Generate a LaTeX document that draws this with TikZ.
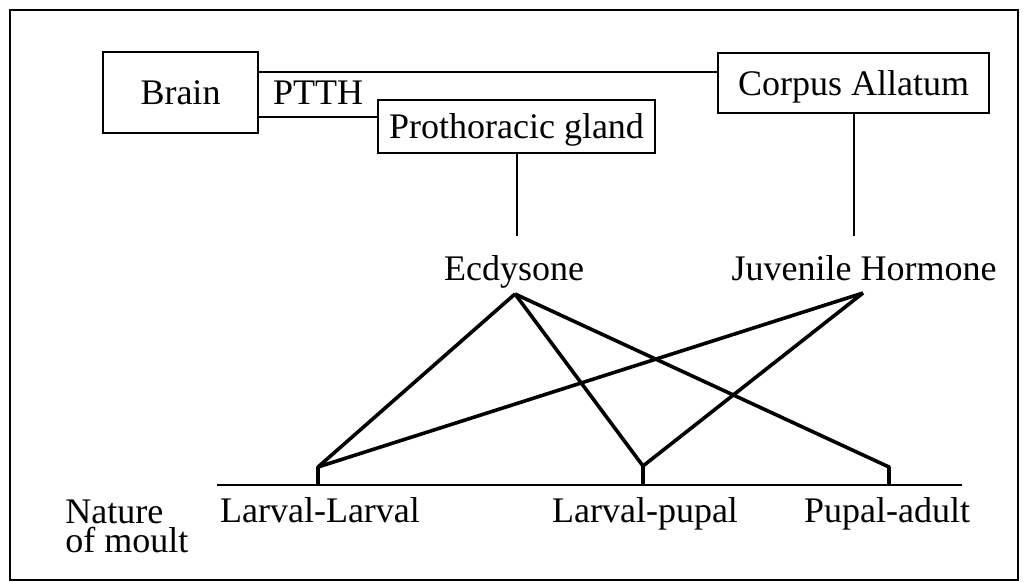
\documentclass[tikz,border=0pt]{standalone}
\usepackage{fontspec}
\setmainfont{Liberation Serif}
\begin{document}
\begin{tikzpicture}[x=0.5pt,y=-0.5pt,
		organ/.style={draw,line width=1.4pt,inner sep=0pt,text depth=0pt,font=\fontsize{18}{21}\selectfont},
		plaintext/.style={inner sep=0pt,anchor=base,font=\fontsize{18}{21}\selectfont},
		link/.style={line width=1pt},
		effect/.style={line width=1.8pt,line join=round}]
		\useasboundingbox (0,0) rectangle (1033,582);
		\draw[line width=1.2pt] (10,10) rectangle (1018,580);
		
		% Glands
		\node[organ,minimum width=77.5pt,minimum height=40.5pt] (brain) at (180.5,92.5) {Brain};
		\node[organ,minimum width=135.5pt,minimum height=30pt] (ca) at (853.5,83) {Corpus Allatum};
		\node[organ,minimum width=138.5pt,minimum height=26.5pt] (pg) at (516.5,126.5) {Prothoracic gland};
		
		% Links between the glands
		\draw[link] (brain.east |- 0,72) -- (ca.west |- 0,72);
		\draw[link] (brain.east |- 0,117) -- (pg.west |- 0,117);
		\node[plaintext] (ptth) at (318,105) {PTTH};
		
		% Hormones
		\node[plaintext] (ecd) at (514,281) {Ecdysone};
		\node[plaintext] (jh) at (864,281) {Juvenile Hormone};
		\draw[link,shorten >=10pt] (pg.south) -- (pg.south |- ecd.north);
		\draw[link,shorten >=10pt] (ca.south) -- (ca.south |- jh.north);
		\coordinate (ecdfoot) at (515,294);
		\coordinate (jhfoot) at (863,293);
		
		% Moult axis
		\coordinate (axl) at (217,485);
		\coordinate (axr) at (962,485);
		\draw[line width=1.3pt] (axl) -- (axr);
		\coordinate (ll) at (318,467);
		\coordinate (lp) at (643,466);
		\coordinate (pa) at (889,467);
		\node[plaintext] (lltext) at (320,522) {Larval-Larval};
		\node[plaintext] (lptext) at (645,522) {Larval-pupal};
		\node[plaintext] (patext) at (887,522) {Pupal-adult};
		\node[plaintext,anchor=base west,align=left,font=\fontsize{18}{14.5}\selectfont] (nature) at (65,552) {Nature\\of moult};
		
		% Effects of the hormones on the moult
		\draw[effect] (ecdfoot) -- (ll) -- (ll |- axl);
		\draw[effect] (ecdfoot) -- (lp) -- (lp |- axl);
		\draw[effect] (ecdfoot) -- (pa) -- (pa |- axl);
		\draw[effect] (jhfoot) -- (ll);
		\draw[effect] (jhfoot) -- (lp);
		
	\end{tikzpicture}
\end{document}
